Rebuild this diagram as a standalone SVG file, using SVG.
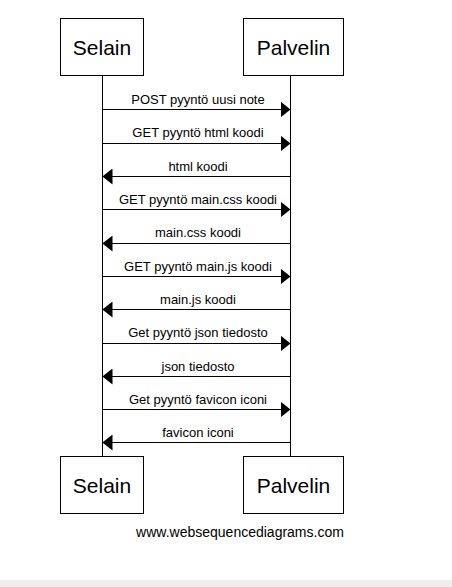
<svg xmlns="http://www.w3.org/2000/svg" width="452" height="587" viewBox="0 0 452 587">
<style>
.box{fill:#fff;stroke:#000;stroke-width:1}
.life{stroke:#000;stroke-width:1}
.msg{stroke:#000;stroke-width:1;fill:none}
.actor{font-family:"Liberation Sans",Arial,sans-serif;font-size:21px;text-anchor:middle;fill:#000}
.lbl{font-family:"Liberation Sans",Arial,sans-serif;font-size:13px;text-anchor:middle;fill:#000}
.wm{font-family:"Liberation Sans",Arial,sans-serif;font-size:14px;text-anchor:middle;fill:#000}
</style>
<defs>
<marker id="ah" viewBox="0 0 10 16" refX="10" refY="8" markerWidth="10" markerHeight="16" markerUnits="userSpaceOnUse" orient="auto">
<path d="M0,0 L10,8 L0,16 Z" fill="#000"/>
</marker>
</defs>
<rect width="452" height="587" fill="#fff"/>
<rect x="0" y="580" width="452" height="7" fill="#eeeeee"/>
<g id="lifelines">
<line class="life" x1="102.5" y1="75" x2="102.5" y2="456"/>
<line class="life" x1="290.5" y1="75" x2="290.5" y2="456"/>
</g>
<g id="actor-selain-top"><rect class="box" x="60.5" y="18.5" width="83" height="57"/><text class="actor" x="102" y="55">Selain</text></g>
<g id="actor-palvelin-top"><rect class="box" x="243.5" y="18.5" width="100" height="57"/><text class="actor" x="293.5" y="55">Palvelin</text></g>
<g id="actor-selain-bottom"><rect class="box" x="60.5" y="456.5" width="83" height="57"/><text class="actor" x="102" y="493">Selain</text></g>
<g id="actor-palvelin-bottom"><rect class="box" x="243.5" y="456.5" width="100" height="57"/><text class="actor" x="293.5" y="493">Palvelin</text></g>
<g id="connectors">
<line class="msg" x1="102.5" y1="109.5" x2="290.5" y2="109.5" marker-end="url(#ah)"/>
<line class="msg" x1="102.5" y1="143.5" x2="290.5" y2="143.5" marker-end="url(#ah)"/>
<line class="msg" x1="290.5" y1="176.5" x2="102.5" y2="176.5" marker-end="url(#ah)"/>
<line class="msg" x1="102.5" y1="209.5" x2="290.5" y2="209.5" marker-end="url(#ah)"/>
<line class="msg" x1="290.5" y1="243.5" x2="102.5" y2="243.5" marker-end="url(#ah)"/>
<line class="msg" x1="102.5" y1="276.5" x2="290.5" y2="276.5" marker-end="url(#ah)"/>
<line class="msg" x1="290.5" y1="309.5" x2="102.5" y2="309.5" marker-end="url(#ah)"/>
<line class="msg" x1="102.5" y1="343.5" x2="290.5" y2="343.5" marker-end="url(#ah)"/>
<line class="msg" x1="290.5" y1="376.5" x2="102.5" y2="376.5" marker-end="url(#ah)"/>
<line class="msg" x1="102.5" y1="409.5" x2="290.5" y2="409.5" marker-end="url(#ah)"/>
<line class="msg" x1="290.5" y1="442.5" x2="102.5" y2="442.5" marker-end="url(#ah)"/>
</g>
<g id="labels">
<text class="lbl" x="198" y="104">POST pyyntö uusi note</text>
<text class="lbl" x="198" y="137">GET pyyntö html koodi</text>
<text class="lbl" x="198" y="171">html koodi</text>
<text class="lbl" x="198" y="204">GET pyyntö main.css koodi</text>
<text class="lbl" x="198" y="237">main.css koodi</text>
<text class="lbl" x="198" y="271">GET pyyntö main.js koodi</text>
<text class="lbl" x="198" y="304">main.js koodi</text>
<text class="lbl" x="198" y="337">Get pyyntö json tiedosto</text>
<text class="lbl" x="198" y="371">json tiedosto</text>
<text class="lbl" x="198" y="404">Get pyyntö favicon iconi</text>
<text class="lbl" x="198" y="437">favicon iconi</text>
</g>
<text class="wm" x="240" y="537">www.websequencediagrams.com</text>
</svg>
